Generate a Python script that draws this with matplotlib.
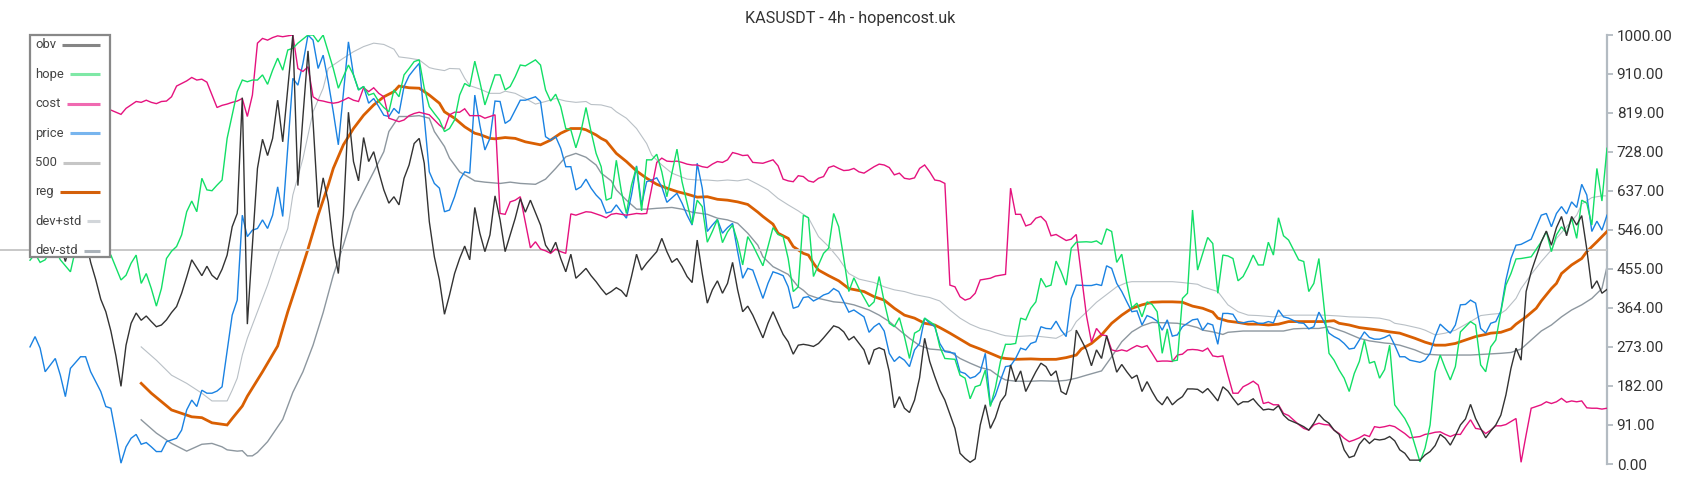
import matplotlib
matplotlib.use("Agg")
import matplotlib.pyplot as plt
from matplotlib.lines import Line2D
from matplotlib.patches import Rectangle

plt.rcParams["font.family"] = ["Roboto", "DejaVu Sans"]

TITLE = "KASUSDT - 4h - hopencost.uk"
Y_TICKS = [0, 91, 182, 273, 364, 455, 546, 637, 728, 819, 910, 1000]
LAST_BAR = 312
LEVEL = 500

# (bar, value) pairs, values normalised to 0..1000
obv = [(0, 560), (2, 590), (4, 540), (6, 510), (7, 472), (8, 515), (10, 580), (12, 470), (13, 430), (14, 384),
       (15, 355), (16, 310), (17, 252), (18, 181), (19, 277), (20, 328), (21, 352), (22, 335), (23, 345), (24, 332),
       (25, 320), (26, 324), (27, 336), (28, 353), (29, 367), (30, 398), (31, 436), (32, 476), (34, 439), (35, 461),
       (36, 440), (37, 430), (38, 454), (39, 487), (40, 553), (41, 584), (42, 854), (43, 326), (44, 510), (45, 689),
       (46, 757), (47, 719), (48, 759), (49, 848), (50, 751), (52, 1000), (53, 649), (54, 810), (55, 963), (56, 798),
       (57, 598), (58, 667), (59, 611), (60, 510), (61, 444), (62, 580), (63, 820), (64, 705), (65, 660), (66, 761),
       (67, 705), (68, 728), (69, 681), (70, 639), (71, 608), (72, 623), (73, 604), (74, 666), (75, 697), (76, 747),
       (77, 759), (78, 701), (79, 565), (80, 483), (81, 429), (82, 349), (83, 394), (84, 444), (85, 479), (86, 508),
       (87, 476), (88, 598), (89, 538), (90, 495), (91, 534), (92, 625), (93, 569), (94, 495), (95, 534), (96, 573),
       (97, 619), (98, 587), (99, 615), (101, 557), (102, 510), (103, 493), (104, 517), (105, 479), (106, 448),
       (107, 489), (108, 433), (109, 444), (110, 456), (111, 439), (112, 425), (113, 409), (114, 395), (115, 402),
       (116, 411), (117, 404), (118, 390), (119, 437), (120, 489), (121, 452), (122, 468), (124, 495), (125, 526),
       (126, 495), (127, 470), (128, 479), (129, 460), (130, 437), (131, 423), (132, 522), (133, 444), (134, 375),
       (135, 406), (136, 427), (137, 398), (138, 421), (139, 470), (140, 406), (141, 355), (142, 368), (143, 347),
       (145, 294), (146, 328), (147, 355), (148, 328), (149, 302), (150, 285), (151, 256), (152, 277), (153, 279),
       (154, 277), (155, 274), (156, 281), (157, 294), (158, 308), (159, 322), (160, 318), (161, 308), (162, 289),
       (163, 297), (165, 266), (166, 232), (167, 266), (168, 271), (169, 266), (170, 215), (171, 131), (172, 157),
       (173, 130), (174, 120), (175, 149), (176, 201), (177, 293), (178, 239), (179, 204), (180, 172), (181, 149),
       (183, 83), (184, 25), (185, 13), (186, 4), (187, 12), (188, 91), (189, 138), (190, 83), (191, 108), (192, 145),
       (193, 161), (194, 231), (195, 192), (196, 217), (197, 169), (198, 192), (199, 215), (200, 235), (201, 227),
       (202, 206), (203, 217), (204, 169), (205, 162), (206, 200), (207, 312), (209, 266), (210, 229), (211, 266),
       (212, 246), (213, 299), (214, 258), (215, 214), (216, 232), (217, 215), (218, 200), (219, 207), (220, 169),
       (221, 192), (222, 169), (223, 149), (224, 138), (225, 157), (226, 138), (227, 149), (228, 157), (229, 175),
       (230, 175), (231, 174), (232, 166), (233, 176), (234, 162), (235, 147), (236, 180), (237, 170), (238, 153),
       (239, 138), (240, 145), (241, 145), (242, 152), (243, 138), (244, 126), (245, 128), (246, 126), (247, 136),
       (248, 114), (249, 103), (251, 93), (252, 87), (253, 79), (254, 95), (255, 116), (256, 103), (257, 95),
       (258, 79), (259, 69), (260, 33), (261, 15), (262, 19), (263, 46), (264, 60), (265, 48), (266, 58), (267, 56),
       (268, 58), (269, 64), (270, 54), (271, 33), (272, 25), (273, 9), (275, 9), (276, 21), (277, 29), (278, 43),
       (279, 69), (280, 60), (281, 44), (282, 66), (283, 91), (284, 105), (285, 139), (286, 106), (287, 83),
       (288, 61), (289, 77), (290, 91), (291, 114), (292, 161), (293, 223), (294, 270), (295, 242), (296, 402),
       (297, 448), (299, 518), (300, 543), (301, 510), (302, 551), (303, 577), (304, 532), (305, 577), (306, 557),
       (307, 579), (308, 501), (309, 409), (310, 427), (311, 398), (312, 407)]

hope = [(0, 475), (1, 490), (2, 470), (3, 476), (4, 495), (5, 500), (6, 476), (8, 448), (9, 500), (10, 525),
        (12, 540), (14, 510), (16, 487), (18, 429), (19, 440), (20, 468), (21, 487), (22, 421), (23, 444), (24, 409),
        (25, 368), (26, 409), (27, 479), (28, 496), (29, 507), (30, 534), (31, 588), (32, 613), (33, 588), (34, 666),
        (35, 639), (36, 637), (37, 650), (38, 662), (39, 759), (40, 813), (41, 868), (42, 895), (43, 891), (44, 895),
        (45, 895), (46, 907), (47, 885), (48, 918), (49, 946), (50, 918), (51, 965), (52, 969), (53, 981), (55, 1000),
        (56, 1000), (57, 984), (58, 1000), (59, 961), (60, 922), (61, 876), (62, 903), (63, 930), (64, 907),
        (65, 872), (66, 880), (67, 860), (68, 864), (69, 845), (70, 831), (71, 821), (72, 872), (73, 856), (74, 907),
        (75, 922), (76, 938), (77, 942), (78, 876), (79, 833), (80, 817), (81, 802), (82, 775), (83, 782), (84, 802),
        (85, 860), (86, 887), (87, 880), (88, 939), (89, 891), (90, 837), (91, 872), (92, 907), (93, 907), (94, 872),
        (95, 880), (96, 903), (97, 930), (98, 928), (100, 942), (101, 930), (102, 872), (103, 846), (104, 862),
        (105, 833), (106, 782), (107, 779), (108, 737), (109, 775), (110, 831), (111, 775), (112, 724), (113, 693),
        (114, 615), (115, 620), (116, 708), (117, 635), (118, 584), (119, 650), (120, 693), (121, 590), (122, 709),
        (123, 709), (124, 722), (125, 681), (126, 623), (128, 734), (129, 658), (130, 608), (131, 559), (132, 615),
        (133, 600), (134, 517), (135, 542), (136, 570), (137, 516), (138, 541), (139, 557), (140, 518), (141, 464),
        (142, 530), (143, 510), (145, 462), (146, 507), (147, 551), (148, 535), (149, 530), (150, 479), (151, 402),
        (152, 413), (153, 580), (154, 574), (155, 437), (156, 464), (157, 491), (158, 503), (159, 584), (160, 553),
        (161, 479), (162, 402), (163, 434), (164, 409), (166, 367), (167, 378), (168, 437), (169, 378), (170, 328),
        (171, 320), (172, 341), (173, 297), (174, 246), (175, 305), (176, 312), (177, 340), (178, 332), (179, 324),
        (180, 273), (181, 246), (183, 244), (184, 207), (185, 200), (186, 152), (187, 180), (188, 184), (189, 219),
        (190, 134), (191, 178), (192, 239), (193, 279), (194, 279), (195, 281), (196, 340), (197, 336), (198, 363),
        (199, 378), (200, 433), (201, 413), (202, 417), (203, 473), (204, 448), (205, 417), (206, 503), (207, 517),
        (209, 518), (210, 517), (211, 520), (212, 512), (213, 548), (214, 542), (215, 470), (216, 489), (217, 421),
        (218, 364), (219, 375), (220, 343), (221, 378), (222, 372), (223, 355), (224, 258), (225, 315), (226, 240),
        (227, 242), (228, 386), (229, 398), (230, 592), (231, 452), (233, 528), (234, 514), (235, 398), (236, 487),
        (237, 485), (238, 479), (239, 427), (240, 437), (241, 460), (242, 487), (243, 464), (244, 464), (245, 517),
        (246, 487), (247, 574), (248, 532), (249, 522), (251, 476), (252, 472), (253, 402), (254, 421), (255, 479),
        (257, 258), (258, 242), (259, 219), (260, 200), (261, 169), (262, 211), (263, 239), (264, 289), (265, 235),
        (266, 239), (267, 200), (268, 220), (269, 277), (270, 138), (271, 122), (272, 106), (273, 83), (275, 5),
        (276, 37), (277, 91), (278, 215), (279, 254), (280, 223), (281, 196), (282, 227), (283, 308), (284, 320),
        (285, 332), (286, 324), (287, 231), (288, 215), (289, 273), (290, 289), (291, 355), (292, 417), (293, 444),
        (294, 478), (295, 479), (296, 481), (297, 483), (299, 518), (300, 542), (301, 495), (302, 534), (303, 553),
        (304, 538), (305, 573), (306, 526), (307, 615), (308, 608), (309, 557), (310, 689), (311, 613), (312, 736)]

cost = [(15, 825), (16, 825), (18, 815), (19, 829), (20, 837), (21, 845), (22, 843), (23, 848), (24, 843),
        (25, 840), (26, 845), (27, 846), (28, 856), (29, 881), (30, 887), (31, 893), (32, 901), (33, 895), (34, 897),
        (35, 890), (37, 831), (38, 836), (39, 839), (40, 843), (41, 846), (42, 852), (43, 810), (44, 860), (45, 981),
        (46, 992), (47, 988), (48, 994), (49, 998), (50, 996), (51, 998), (52, 1000), (53, 922), (54, 915), (55, 926),
        (56, 856), (57, 848), (58, 846), (59, 843), (60, 841), (61, 843), (62, 848), (63, 854), (64, 848), (65, 845),
        (66, 877), (67, 868), (68, 877), (69, 864), (70, 856), (71, 806), (73, 798), (74, 802), (75, 812), (76, 817),
        (77, 820), (78, 817), (79, 814), (80, 802), (81, 790), (82, 781), (83, 814), (84, 820), (85, 820), (86, 828),
        (87, 812), (88, 812), (89, 812), (90, 806), (91, 810), (92, 814), (93, 584), (94, 582), (95, 611), (96, 615),
        (97, 623), (99, 504), (100, 518), (101, 501), (102, 497), (103, 491), (104, 501), (105, 495), (106, 491),
        (107, 583), (108, 580), (109, 584), (110, 588), (111, 587), (112, 583), (113, 579), (114, 574), (115, 582),
        (116, 584), (117, 582), (118, 580), (119, 582), (120, 584), (121, 583), (122, 584), (124, 703), (125, 713),
        (126, 706), (127, 705), (128, 706), (129, 703), (130, 699), (131, 697), (132, 697), (133, 693), (134, 691),
        (135, 699), (136, 705), (137, 703), (138, 709), (139, 726), (140, 723), (141, 719), (142, 720), (143, 703),
        (145, 701), (146, 705), (147, 709), (148, 695), (149, 664), (150, 660), (151, 658), (152, 672), (153, 670),
        (154, 660), (155, 657), (156, 666), (157, 670), (158, 691), (159, 695), (160, 689), (161, 684), (162, 685),
        (163, 689), (164, 681), (165, 678), (167, 693), (168, 699), (169, 697), (170, 691), (171, 674), (172, 678),
        (173, 666), (174, 664), (175, 667), (176, 689), (177, 697), (178, 681), (179, 662), (180, 660), (181, 654),
        (182, 417), (183, 413), (184, 390), (185, 382), (186, 386), (187, 398), (188, 429), (189, 431), (190, 433),
        (191, 438), (192, 440), (193, 442), (194, 643), (195, 582), (196, 582), (197, 555), (198, 559), (199, 573),
        (200, 577), (201, 565), (202, 532), (203, 535), (204, 528), (205, 521), (206, 524), (207, 535), (209, 347),
        (210, 284), (211, 316), (212, 301), (213, 299), (214, 266), (215, 263), (216, 266), (217, 263), (218, 270),
        (219, 276), (220, 272), (221, 276), (222, 258), (223, 239), (224, 240), (225, 240), (226, 239), (227, 254),
        (228, 256), (229, 266), (230, 267), (231, 266), (232, 263), (233, 270), (234, 252), (235, 250), (236, 252),
        (237, 207), (238, 165), (239, 165), (240, 180), (241, 186), (242, 193), (243, 184), (244, 141), (245, 144),
        (246, 138), (247, 138), (248, 118), (249, 113), (251, 92), (252, 83), (253, 79), (254, 91), (255, 95),
        (256, 92), (257, 91), (258, 79), (259, 71), (260, 60), (261, 52), (262, 56), (263, 61), (264, 68), (265, 64),
        (266, 87), (267, 85), (268, 87), (269, 90), (270, 87), (271, 79), (272, 71), (273, 61), (275, 64), (276, 69),
        (277, 71), (278, 74), (279, 75), (280, 69), (281, 64), (282, 69), (283, 69), (284, 87), (285, 103), (286, 83),
        (287, 81), (288, 71), (289, 79), (290, 89), (291, 89), (292, 92), (293, 99), (294, 106), (295, 4), (296, 68),
        (297, 130), (299, 138), (300, 145), (301, 141), (302, 145), (303, 153), (304, 144), (305, 147), (306, 145),
        (307, 147), (308, 131), (309, 130), (310, 130), (311, 128), (312, 130)]

price = [(0, 273), (1, 297), (2, 270), (3, 215), (5, 246), (6, 207), (7, 157), (8, 223), (10, 250), (11, 250),
         (12, 215), (14, 169), (15, 134), (16, 130), (17, 68), (18, 2), (19, 40), (20, 60), (21, 69), (22, 46),
         (23, 50), (24, 40), (25, 29), (26, 29), (27, 52), (29, 60), (30, 79), (31, 126), (32, 149), (33, 134),
         (34, 172), (35, 165), (36, 165), (37, 170), (38, 180), (40, 347), (41, 382), (42, 580), (43, 530), (44, 545),
         (45, 549), (46, 569), (47, 549), (48, 580), (49, 646), (50, 577), (52, 899), (53, 883), (54, 934), (55, 1000),
         (56, 988), (57, 922), (58, 953), (59, 891), (60, 821), (61, 744), (63, 984), (64, 907), (65, 872), (66, 880),
         (67, 841), (68, 852), (69, 833), (70, 813), (71, 810), (72, 829), (73, 817), (74, 880), (75, 905), (76, 920),
         (77, 934), (79, 681), (80, 654), (81, 643), (82, 588), (83, 592), (84, 623), (85, 662), (86, 681), (87, 678),
         (88, 860), (89, 790), (90, 732), (91, 759), (92, 846), (93, 845), (94, 794), (95, 802), (96, 825), (97, 848),
         (98, 848), (100, 856), (101, 845), (102, 763), (103, 755), (104, 763), (105, 736), (106, 693), (107, 693),
         (108, 639), (109, 646), (110, 664), (111, 643), (112, 627), (113, 615), (114, 585), (115, 588), (116, 604),
         (117, 588), (118, 573), (119, 627), (120, 695), (121, 604), (122, 658), (123, 662), (124, 667), (125, 646),
         (126, 610), (128, 631), (129, 608), (130, 580), (131, 557), (132, 701), (133, 643), (134, 542), (135, 557),
         (136, 570), (137, 538), (138, 551), (139, 561), (140, 495), (141, 433), (142, 456), (143, 452), (145, 386),
         (146, 421), (147, 448), (148, 444), (149, 439), (150, 413), (151, 363), (152, 367), (153, 388), (154, 390),
         (155, 380), (156, 386), (157, 394), (158, 398), (159, 409), (160, 402), (161, 378), (162, 354), (163, 359),
         (165, 343), (166, 307), (167, 320), (168, 328), (169, 310), (170, 258), (171, 239), (172, 250), (173, 242),
         (174, 227), (175, 266), (176, 281), (177, 340), (178, 328), (179, 320), (180, 281), (181, 262), (183, 258),
         (184, 215), (185, 211), (186, 200), (187, 204), (188, 215), (189, 258), (190, 138), (191, 160), (192, 195),
         (193, 227), (194, 229), (195, 246), (196, 270), (197, 266), (198, 281), (199, 285), (200, 320), (201, 316),
         (202, 315), (203, 333), (204, 312), (205, 297), (206, 386), (207, 417), (209, 416), (210, 416), (211, 419),
         (212, 416), (213, 462), (214, 456), (215, 421), (216, 402), (217, 378), (218, 355), (219, 357), (220, 324),
         (221, 346), (222, 341), (223, 333), (224, 312), (225, 336), (226, 298), (227, 301), (228, 320), (229, 328),
         (230, 336), (231, 338), (232, 312), (233, 328), (234, 324), (235, 279), (236, 351), (237, 351), (238, 349),
         (239, 330), (240, 329), (241, 332), (242, 333), (243, 328), (244, 328), (245, 332), (246, 329), (247, 359),
         (248, 343), (249, 340), (251, 329), (252, 328), (253, 315), (254, 320), (255, 354), (256, 332), (257, 305),
         (258, 297), (259, 291), (260, 281), (261, 268), (262, 270), (263, 289), (264, 308), (265, 295), (266, 291),
         (267, 291), (268, 295), (269, 301), (270, 277), (271, 250), (272, 250), (273, 242), (275, 237), (276, 242),
         (277, 258), (278, 297), (279, 326), (280, 315), (281, 305), (282, 324), (283, 371), (284, 372), (285, 382),
         (286, 375), (287, 316), (288, 305), (289, 328), (290, 332), (291, 357), (292, 429), (293, 479), (294, 510),
         (295, 512), (296, 518), (297, 524), (299, 580), (300, 584), (301, 553), (302, 584), (303, 600), (304, 583),
         (305, 611), (306, 598), (307, 652), (308, 627), (309, 542), (310, 566), (311, 545), (312, 580)]

reg = [(22, 188), (24, 165), (28, 126), (32, 110), (34, 108), (36, 96), (39, 91), (40, 106), (42, 135), (43, 158),
       (46, 215), (49, 275), (51, 355), (53, 427), (55, 501), (57, 580), (59, 650), (60, 689), (62, 744), (64, 782),
       (66, 813), (68, 837), (70, 856), (72, 868), (73, 881), (75, 877), (77, 876), (79, 860), (81, 841), (82, 821),
       (84, 806), (86, 786), (88, 771), (89, 768), (91, 759), (92, 758), (94, 761), (96, 759), (98, 751), (101, 744),
       (103, 755), (105, 771), (107, 782), (109, 782), (110, 779), (112, 767), (113, 759), (114, 753), (116, 724),
       (118, 705), (120, 683), (122, 666), (124, 652), (126, 643), (128, 635), (130, 629), (132, 622), (134, 623),
       (136, 617), (138, 615), (140, 611), (142, 605), (144, 587), (145, 577), (147, 559), (148, 538), (150, 526),
       (151, 507), (153, 491), (154, 487), (155, 468), (156, 452), (158, 439), (160, 427), (162, 409), (165, 402),
       (167, 390), (169, 382), (171, 363), (173, 347), (175, 340), (177, 328), (179, 324), (180, 318), (182, 305),
       (184, 291), (186, 277), (188, 268), (190, 258), (192, 248), (193, 246), (195, 244), (198, 245), (200, 244),
       (203, 244), (205, 248), (207, 254), (208, 268), (210, 281), (212, 301), (214, 328), (216, 347), (218, 363),
       (220, 371), (222, 377), (224, 378), (226, 378), (228, 377), (230, 368), (232, 363), (234, 354), (235, 340),
       (237, 333), (239, 330), (241, 326), (243, 326), (245, 324), (247, 326), (249, 332), (251, 332), (254, 332),
       (256, 332), (258, 334), (259, 328), (261, 324), (263, 318), (265, 315), (267, 312), (269, 308), (271, 305),
       (274, 293), (276, 284), (278, 277), (280, 277), (282, 281), (284, 289), (286, 297), (288, 302), (289, 305),
       (291, 307), (293, 315), (294, 326), (296, 343), (298, 363), (299, 380), (301, 409), (302, 421), (303, 444),
       (305, 464), (307, 479), (308, 495), (310, 518), (312, 542)]

dev_plus = [(22, 273), (25, 242), (28, 207), (31, 188), (34, 165), (36, 147), (39, 147), (40, 172), (41, 200),
            (42, 254), (43, 293), (45, 355), (47, 417), (49, 487), (51, 549), (52, 627), (54, 712), (56, 821),
            (58, 876), (59, 922), (62, 946), (64, 961), (66, 973), (68, 981), (70, 978), (72, 967), (73, 949),
            (75, 946), (77, 942), (79, 924), (80, 921), (82, 917), (83, 922), (85, 921), (86, 899), (87, 882),
            (89, 874), (91, 864), (93, 864), (94, 869), (96, 864), (98, 852), (100, 839), (102, 845), (104, 852),
            (106, 846), (108, 843), (110, 845), (111, 838), (113, 837), (115, 831), (116, 821), (118, 806), (120, 782),
            (122, 747), (123, 720), (125, 697), (127, 678), (130, 664), (132, 662), (134, 662), (136, 660), (138, 662),
            (140, 660), (142, 664), (144, 652), (146, 639), (148, 619), (150, 604), (152, 590), (153, 582), (154, 574),
            (156, 530), (158, 507), (160, 479), (162, 444), (164, 431), (167, 423), (169, 413), (171, 406), (173, 402),
            (175, 395), (178, 388), (180, 380), (182, 359), (184, 340), (186, 326), (188, 316), (190, 310), (192, 302),
            (193, 299), (195, 297), (198, 299), (200, 297), (203, 293), (204, 299), (206, 312), (207, 332), (209, 354),
            (211, 377), (213, 395), (215, 413), (217, 423), (218, 425), (221, 425), (223, 425), (226, 425), (228, 423),
            (231, 419), (232, 413), (235, 402), (237, 371), (239, 355), (241, 347), (243, 346), (246, 343), (248, 346),
            (250, 347), (254, 347), (256, 347), (259, 345), (261, 343), (264, 342), (267, 340), (269, 335), (270, 328),
            (272, 324), (275, 316), (276, 312), (278, 301), (280, 305), (282, 312), (285, 332), (287, 346), (289, 349),
            (291, 351), (292, 359), (294, 386), (295, 409), (297, 442), (299, 472), (301, 499), (302, 526), (304, 553),
            (306, 580), (307, 606), (309, 621), (311, 625), (312, 625)]

dev_minus = [(22, 103), (25, 72), (28, 48), (31, 30), (34, 46), (36, 48), (38, 40), (39, 33), (41, 30), (42, 31),
             (43, 19), (44, 19), (45, 27), (47, 52), (50, 104), (52, 167), (54, 215), (56, 277), (58, 353), (60, 440),
             (62, 510), (64, 588), (66, 635), (68, 681), (70, 728), (71, 775), (73, 810), (75, 810), (77, 812),
             (79, 806), (80, 775), (82, 740), (83, 713), (85, 681), (88, 660), (90, 657), (93, 654), (95, 657),
             (97, 654), (100, 652), (102, 664), (104, 689), (106, 716), (108, 724), (110, 715), (112, 697), (113, 678),
             (115, 660), (116, 639), (118, 615), (120, 594), (122, 594), (124, 596), (127, 598), (129, 594), (131, 587),
             (134, 582), (136, 573), (138, 569), (140, 561), (142, 538), (144, 510), (145, 483), (147, 460), (150, 442),
             (152, 413), (153, 405), (154, 394), (156, 386), (159, 378), (161, 376), (163, 371), (166, 359), (168, 347),
             (170, 332), (172, 312), (174, 293), (176, 276), (178, 268), (180, 266), (182, 262), (184, 246), (186, 235),
             (188, 225), (190, 219), (192, 202), (193, 196), (195, 193), (198, 193), (200, 194), (203, 193), (205, 195),
             (207, 200), (209, 207), (212, 217), (214, 250), (216, 285), (218, 308), (220, 322), (222, 330), (225, 329),
             (227, 328), (229, 324), (231, 318), (232, 312), (234, 308), (236, 302), (237, 307), (240, 310), (243, 310),
             (246, 310), (248, 310), (250, 315), (252, 316), (255, 316), (257, 320), (260, 308), (263, 293), (265, 287),
             (268, 282), (269, 281), (271, 277), (274, 266), (276, 256), (279, 254), (282, 254), (285, 254), (288, 256),
             (291, 258), (293, 260), (295, 268), (297, 289), (299, 310), (301, 324), (303, 343), (305, 359), (307, 371),
             (309, 386), (311, 409), (312, 460)]

# name, data, line colour, line width, legend swatch colour
SERIES = [
    ("obv", obv, "#333333", 1.0, "#858585"),
    ("hope", hope, "#12df66", 1.0, "#7fe8a6"),
    ("cost", cost, "#e5127e", 1.0, "#f06ab1"),
    ("price", price, "#1a82e2", 1.0, "#78b5ee"),
    ("500", None, "#c8c8c8", 1.4, "#c6c6c6"),
    ("reg", reg, "#d95f02", 2.0, "#d4600a"),
    ("dev+std", dev_plus, "#b9c0c6", 0.8, "#d2d6da"),
    ("dev-std", dev_minus, "#8d979f", 1.0, "#aab2b9"),
]

W, H = 1700, 500
fig = plt.figure(figsize=(W / 100, H / 100), dpi=100)
ax = fig.add_axes([0.0, 1 - 464 / H, 1607 / W, (464 - 35) / H])

# chart.js style: first dataset on top
for z, (name, data, color, lw, _) in enumerate(reversed(SERIES)):
    if data is None:
        ax.axhline(LEVEL, color=color, lw=lw, zorder=z + 1)
        continue
    t, v = zip(*data)
    ax.plot(t, v, color=color, lw=lw, zorder=z + 1, solid_joinstyle="miter")

ax.set_xlim(-30 / 5.054, LAST_BAR)
ax.set_ylim(0, 1000)
for s in ("left", "top", "bottom"):
    ax.spines[s].set_visible(False)
ax.spines["right"].set_color("#b3bbc2")
ax.spines["right"].set_linewidth(1.6)
ax.set_xticks([])
ax.yaxis.tick_right()
ax.set_yticks(Y_TICKS)
ax.set_yticklabels([f"{y:.2f}" for y in Y_TICKS])
ax.tick_params(axis="y", length=4, width=1.3, color="#b3bbc2", pad=3, labelsize=11, labelcolor="#333333")

fig.text(0.5, 1 - 18 / H, TITLE, ha="center", va="center", fontsize=11.6, color="#333333")

# legend box drawn by hand: label left, swatch running to the right edge
fig.add_artist(Rectangle((30 / W, 1 - 257 / H), 80 / W, 222 / H, transform=fig.transFigure,
                         facecolor="white", edgecolor="#888888", lw=1.6, zorder=5))
labels = []
for i, (name, _, _, _, sw) in enumerate(SERIES):
    yc = 45 + i * 29.4
    labels.append(fig.text(35 / W, 1 - yc / H, name, ha="left", va="center", fontsize=9.4,
                           color="#444444", zorder=6))
fig.canvas.draw()
rend = fig.canvas.get_renderer()
for i, (lab, (name, _, _, _, sw)) in enumerate(zip(labels, SERIES)):
    yc = 1 - (45 + i * 29.4) / H
    x1 = lab.get_window_extent(rend).x1 + 6
    fig.add_artist(Line2D([x1 / W, 100 / W], [yc, yc], transform=fig.transFigure,
                          color=sw, lw=2.2, solid_capstyle="butt", zorder=6))

fig.savefig("out.png", dpi=100)
